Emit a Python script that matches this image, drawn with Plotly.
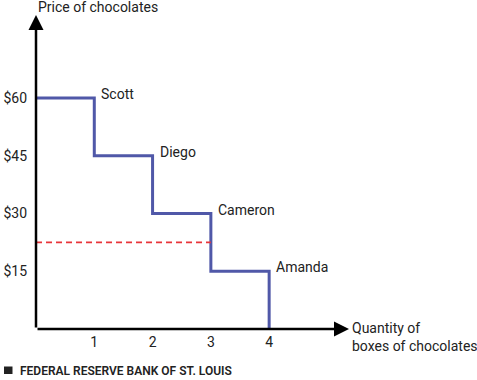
import plotly.graph_objects as go

buyers = ["Scott", "Diego", "Cameron", "Amanda"]
quantity = [0, 1, 2, 3, 4]
prices = [60, 45, 30, 15]
market_price = 22.5
y_ticks = [15, 30, 45, 60]
y_tick_labels = ["$15", "$30", "$45", "$60"]
x_ticks = [1, 2, 3, 4]
x_tick_labels = ["1", "2", "3", "4"]

FONT = "Roboto"
TXT = "#222222"
XMAX, YMAX = 5.37, 81.6
L, R, T, B = 36, 128, 15, 51
W, H = 477, 380
PW, PH = W - L - R, H - T - B


def px_x(px):
    return (px - L) / PW


def px_y(py):
    return (H - B - py) / PH


fig = go.Figure()
fig.add_trace(go.Scatter(
    x=quantity, y=prices + [0], mode="lines", line_shape="hv",
    line=dict(color="#5058a8", width=3), hoverinfo="skip", showlegend=False))
fig.add_trace(go.Scatter(
    x=[0, 3], y=[market_price, market_price], mode="lines",
    line=dict(color="#e8353a", width=1.8, dash="6px,4px"),
    hoverinfo="skip", showlegend=False))

for i, (name, p) in enumerate(zip(buyers, prices)):
    fig.add_annotation(x=i + 1, y=p + 1, text=name, showarrow=False,
                       xanchor="left", yanchor="middle", xshift=5,
                       font=dict(family=FONT, size=14, color=TXT))

# axes with arrows
fig.add_annotation(x=0, y=YMAX, ax=0, ay=0, axref="x", ayref="y", xref="x", yref="y",
                   text="", showarrow=True, arrowhead=2, arrowsize=1.2, arrowwidth=2.5,
                   arrowcolor="black", standoff=0)
fig.add_annotation(x=XMAX, y=0, ax=0, ay=0, axref="x", ayref="y", xref="x", yref="y",
                   text="", showarrow=True, arrowhead=2, arrowsize=1.2, arrowwidth=2.5,
                   arrowcolor="black", standoff=0)

fig.add_annotation(x=0, y=YMAX, xref="x", yref="y", text="Price of chocolates",
                   showarrow=False, xanchor="left", yanchor="bottom", xshift=0, yshift=-2,
                   font=dict(family=FONT, size=14, color=TXT))
fig.add_annotation(x=XMAX, y=0, xref="x", yref="y",
                   text="Quantity of<br>boxes of chocolates",
                   showarrow=False, xanchor="left", yanchor="top", xshift=1, yshift=11,
                   align="left", font=dict(family=FONT, size=14, color=TXT))

# footer
fig.add_shape(type="rect", xref="paper", yref="paper",
              x0=px_x(4), x1=px_x(12.5), y0=px_y(374), y1=px_y(366.5),
              fillcolor="#222222", line=dict(width=0))
fig.add_annotation(x=px_x(18), y=px_y(370.5), xref="paper", yref="paper",
                   text="FEDERAL RESERVE BANK OF ST. LOUIS", showarrow=False,
                   xanchor="left", yanchor="middle",
                   font=dict(family=FONT, size=12, color=TXT, weight=600))

fig.update_xaxes(range=[0, XMAX], tickvals=x_ticks, ticktext=x_tick_labels,
                 showgrid=False, zeroline=False, showline=False, ticks="",
                 automargin=False, ticklabelstandoff=3,
                 tickfont=dict(family=FONT, size=14, color=TXT), fixedrange=True)
fig.update_yaxes(range=[0, YMAX], tickvals=y_ticks, ticktext=y_tick_labels,
                 showgrid=False, zeroline=False, showline=False, ticks="",
                 automargin=False, ticklabelstandoff=8,
                 tickfont=dict(family=FONT, size=14, color=TXT), fixedrange=True)

fig.update_layout(width=W, height=H, margin=dict(l=L, r=R, t=T, b=B),
                  plot_bgcolor="white", paper_bgcolor="white",
                  font=dict(family=FONT, color=TXT))
fig.write_html("out.html", config={"displayModeBar": False},
               post_script="document.body.style.margin='0';document.body.style.overflow='hidden';")
